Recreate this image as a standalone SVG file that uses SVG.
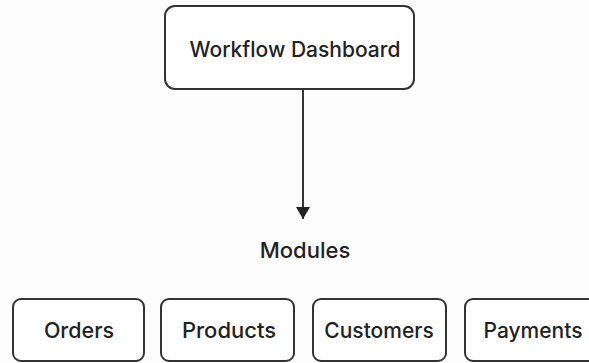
<svg xmlns="http://www.w3.org/2000/svg" width="589" height="363" viewBox="0 0 589 363">
  <style>
    .box { fill: #ffffff; stroke: #333333; stroke-width: 2; }
    .label { font-family: Inter, "Liberation Sans", sans-serif; font-weight: 500; fill: #222222; text-anchor: middle; }
    .edge { stroke: #333333; stroke-width: 2; fill: none; }
  </style>
  <defs>
    <marker id="arrow" viewBox="0 0 12 16" refX="12" refY="8" markerWidth="12" markerHeight="16" markerUnits="userSpaceOnUse" orient="auto">
      <path d="M0,1 L12,8 L0,15 Z" fill="#222222"/>
    </marker>
  </defs>
  <rect width="589" height="363" fill="#fdfdfd"/>

  <g id="dashboard">
    <rect class="box" x="165" y="6" width="249" height="83" rx="10"/>
    <text class="label" x="295" y="57" font-size="21">Workflow Dashboard</text>
  </g>

  <g id="connectors">
    <line class="edge" x1="303" y1="89" x2="303" y2="219" marker-end="url(#arrow)"/>
  </g>

  <g id="modules">
    <text class="label" x="305" y="258" font-size="22">Modules</text>
  </g>

  <g id="orders">
    <rect class="box" x="13" y="299" width="131" height="62" rx="8"/>
    <text class="label" x="79" y="338" font-size="21.5">Orders</text>
  </g>
  <g id="products">
    <rect class="box" x="161" y="299" width="133" height="62" rx="8"/>
    <text class="label" x="229" y="338" font-size="22">Products</text>
  </g>
  <g id="customers">
    <rect class="box" x="313" y="299" width="133" height="62" rx="8"/>
    <text class="label" x="379" y="338" font-size="21">Customers</text>
  </g>
  <g id="payments">
    <rect class="box" x="465" y="299" width="135" height="62" rx="8"/>
    <text class="label" x="533" y="338" font-size="21">Payments</text>
  </g>
</svg>
